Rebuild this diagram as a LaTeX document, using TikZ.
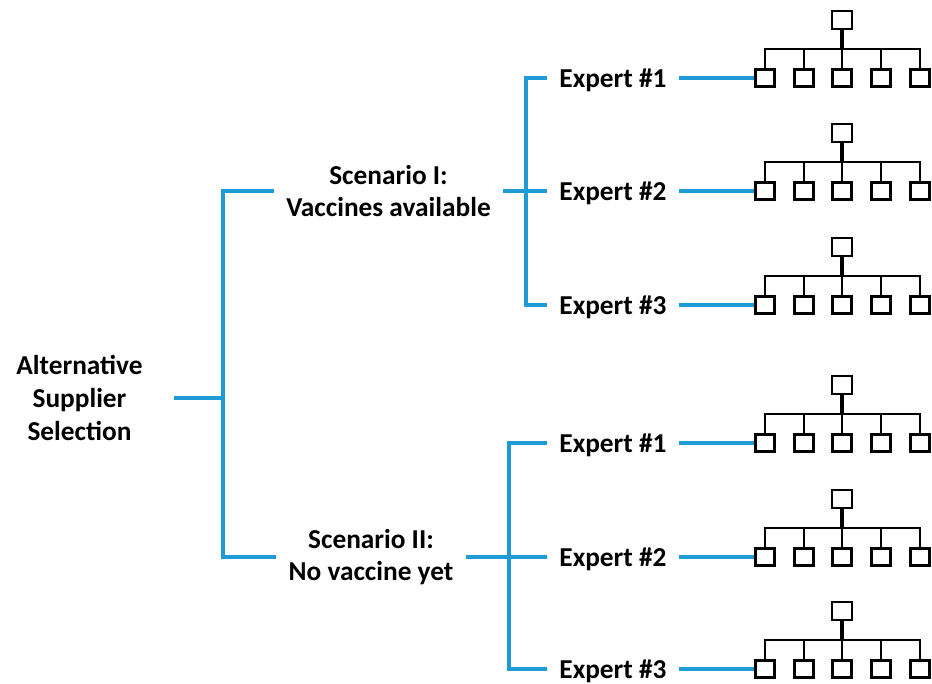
\documentclass[tikz,border=0pt]{standalone}
\usepackage{fontspec}
\setmainfont{Carlito}
\usepackage{tikz}
\usetikzlibrary{positioning}
\definecolor{linkblue}{RGB}{30,155,215}

\begin{document}
\begin{tikzpicture}[x=0.75pt,y=-0.75pt,
	lbl/.style={font=\fontsize{20.5}{24.4}\selectfont\bfseries,align=center,inner xsep=9pt,inner ysep=0pt},
	expert/.style={lbl,text depth=0pt},
	link/.style={draw=linkblue,line width=3pt},
	orgbox/.style={draw,line width=2pt,minimum width=14.5pt,minimum height=13pt,inner sep=0pt},
	orgline/.style={draw,line width=2pt}]
	\useasboundingbox (0,0) rectangle (932,683);

	\node[lbl,inner xsep=23pt] (root) at (79.5,398) {Alternative\\Supplier\\Selection};
	\node[lbl] (s1) at (388.5,191) {Scenario I:\\Vaccines available};
	\node[lbl] (s2) at (371,557) {Scenario II:\\No vaccine yet};

	\node[expert] (e11) at (613,78 ) {Expert \#1};
	\node[expert] (e12) at (613,191) {Expert \#2};
	\node[expert] (e13) at (613,305) {Expert \#3};
	\node[expert] (e21) at (613,443) {Expert \#1};
	\node[expert] (e22) at (613,557) {Expert \#2};
	\node[expert] (e23) at (613,669) {Expert \#3};

	\coordinate (j0) at (223,398);
	\coordinate (j1) at (526,191);
	\coordinate (j2) at (509,557);

	\draw[link] (root.east) -- (j0);
	\draw[link] (s1.west) -| (j0) |- (s2.west);
	\draw[link] (s1.east) -- (j1);
	\draw[link] (e11.west) -| (j1) |- (e13.west);
	\draw[link] (j1) -- (e12.west);
	\draw[link] (s2.east) -- (j2);
	\draw[link] (e21.west) -| (j2) |- (e23.west);
	\draw[link] (j2) -- (e22.west);

	% small hierarchy icon after each expert
	\foreach \e/\y in {e11/78,e12/191,e13/305,e21/443,e22/557,e23/669} {
		\node[orgbox,minimum width=15pt,minimum height=13.5pt] (top\e) at (842,\y-58) {};
		\foreach \c/\x in {1/765,2/804,3/842,4/881,5/920}
			\node[orgbox] (c\c\e) at (\x,\y) {};
		\coordinate (bar\e) at (842,\y-29);
		\draw[orgline,line width=2.6pt] (top\e.south) -- (bar\e);
		\draw[orgline] (c1\e.north) |- (bar\e) -| (c5\e.north);
		\foreach \c in {2,3,4}
			\draw[orgline] (c\c\e.north) -- (c\c\e.north |- bar\e);
		\draw[link] (\e.east) -- (c1\e.west);
	}
\end{tikzpicture}
\end{document}
